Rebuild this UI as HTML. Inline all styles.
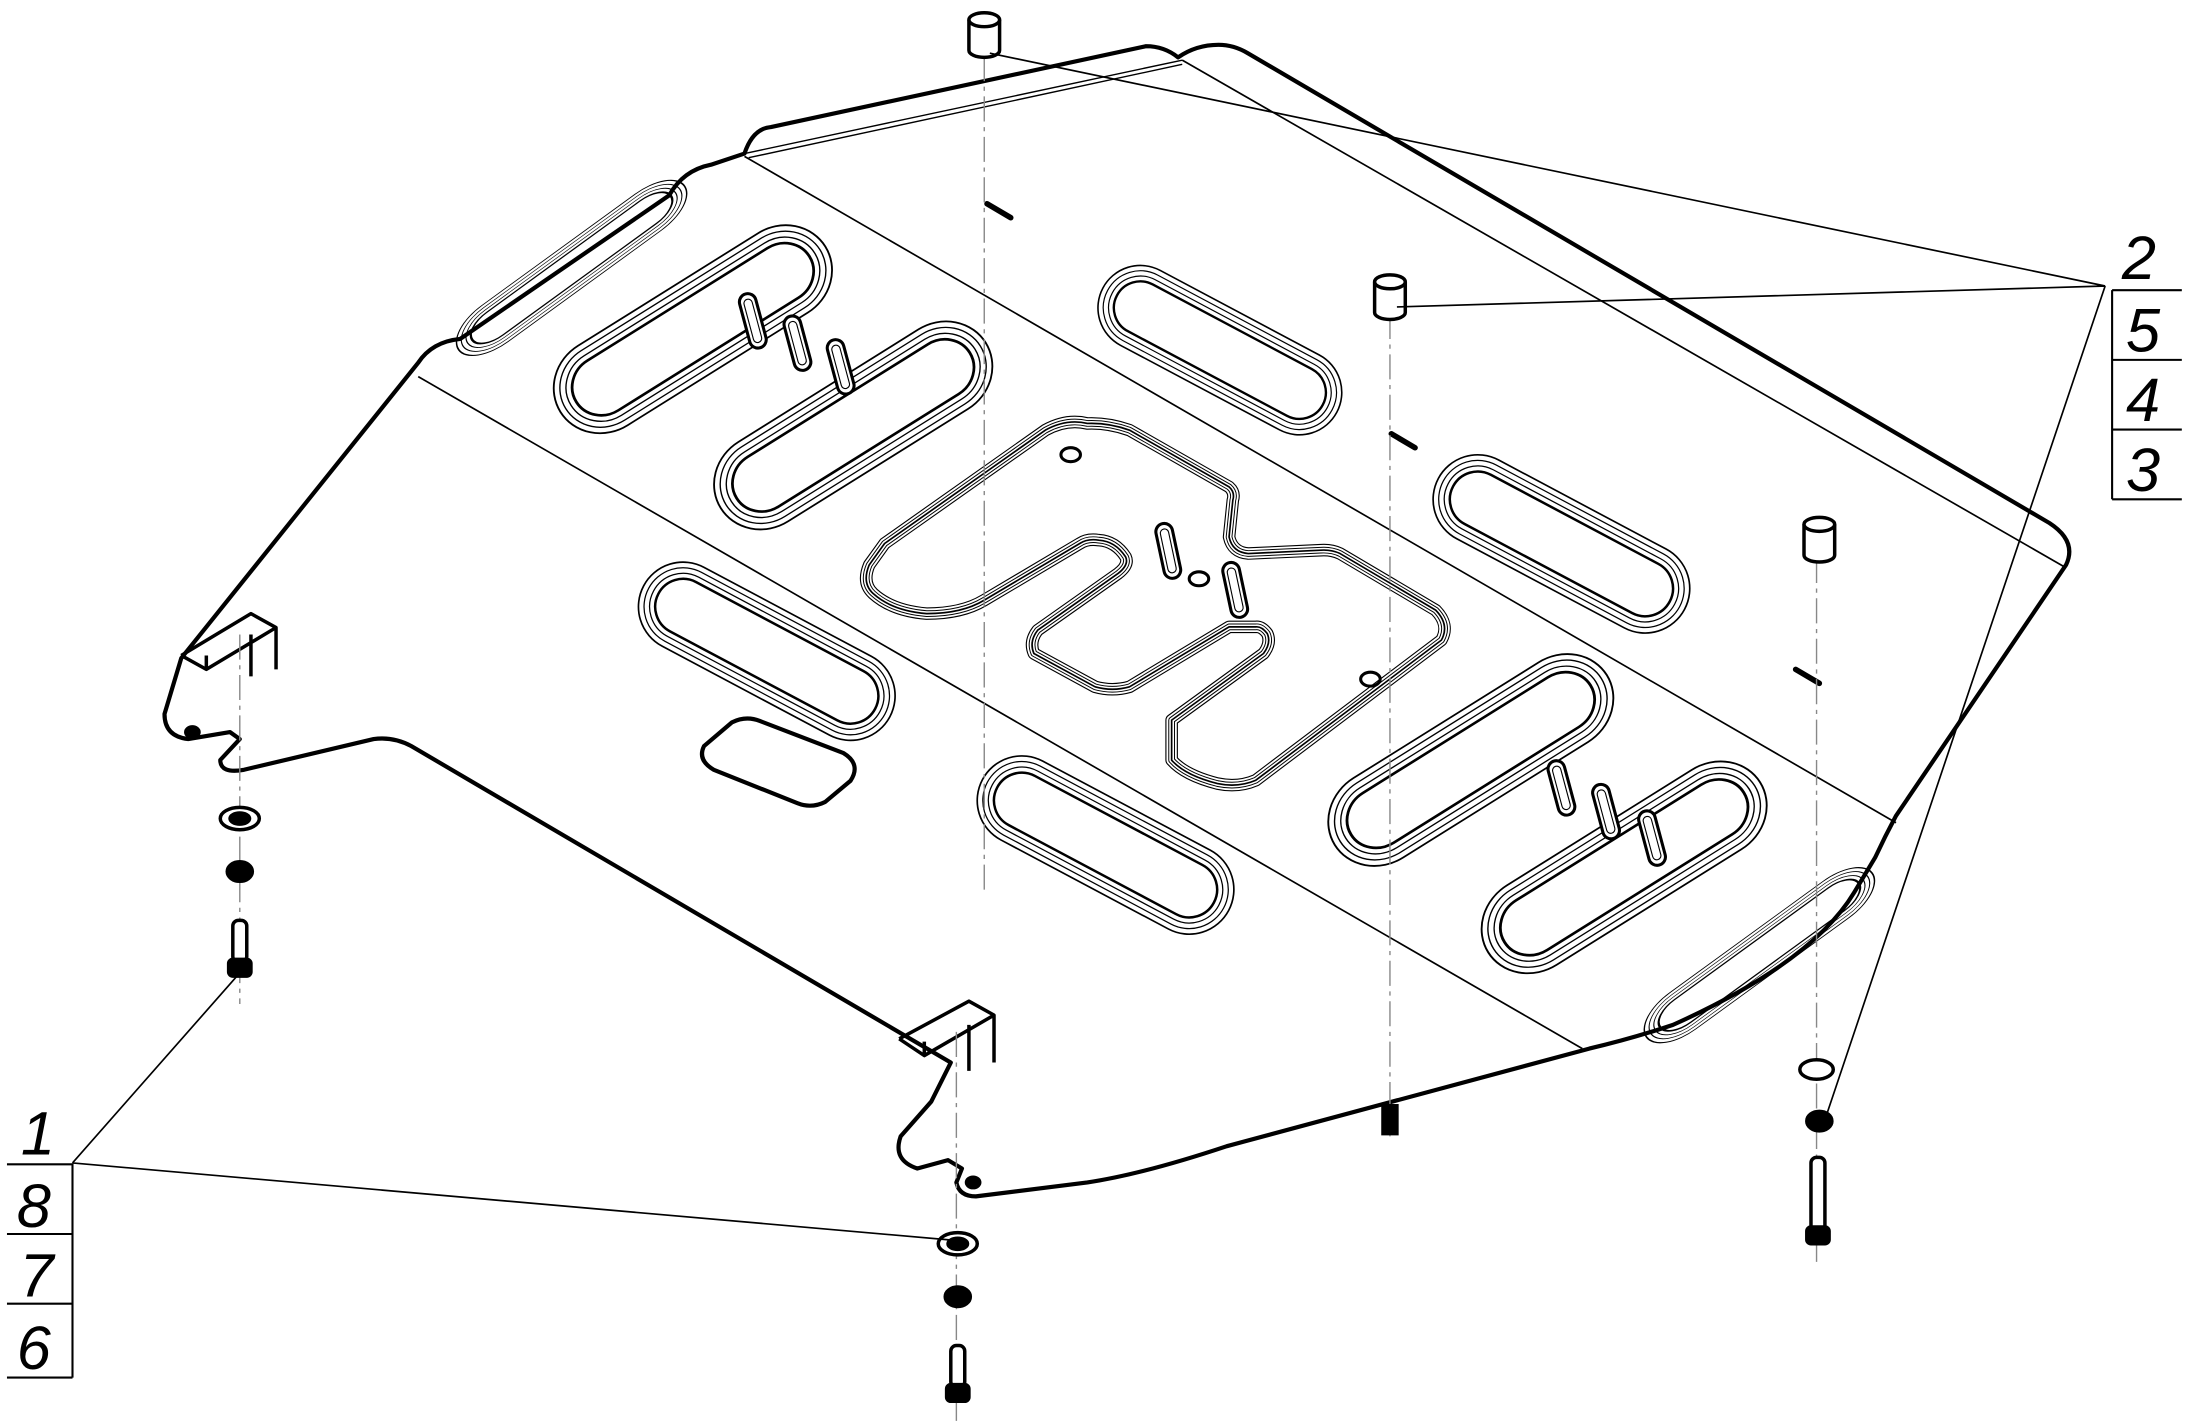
<!DOCTYPE html>
<html><head><meta charset="utf-8"><style>html,body{margin:0;padding:0;background:#fff}svg{display:block}</style></head>
<body>
<svg width="2186" height="1428" viewBox="0 0 1568 1024" xmlns="http://www.w3.org/2000/svg">
<defs>
<g id="slot"><rect x="-100" y="-32" width="200" height="64" rx="32" fill="none" stroke="#000" stroke-width="1.2"/><rect x="-96" y="-28" width="192" height="56" rx="28" fill="none" stroke="#000" stroke-width="0.9"/><rect x="-92" y="-24" width="184" height="48" rx="24" fill="none" stroke="#000" stroke-width="0.9"/><rect x="-88" y="-20" width="176" height="40" rx="20" fill="none" stroke="#000" stroke-width="1.8"/></g>
<g id="pin"><rect x="-6" y="-20" width="12" height="40" rx="6" fill="#fff" stroke="#000" stroke-width="2.2"/><rect x="-3" y="-16" width="6" height="32" rx="3" fill="none" stroke="#000" stroke-width="0.8"/></g>
<g id="bush"><path d="M-11,-10 L-11,12 A11,5 0 0 0 11,12 L11,-10" fill="#fff" stroke="#000" stroke-width="2.5"/><ellipse cx="0" cy="-10" rx="11" ry="5" fill="#fff" stroke="#000" stroke-width="2.5"/></g>
<path id="cshape" d="M634.5,389.7 L749.8,308.4 Q765,300 780,303.6 Q795,303 810.2,308.4 L881.6,349.1 Q886,353 884.3,358.6 L881.6,385 Q884,396 895.3,396.9 L947.4,394.5 Q955,394 961.2,396.9 L1029.8,437.5 Q1040,448 1033.9,459 L900.8,559.5 Q888,565 873.3,561.9 Q850,556 840.4,545.1 L840.4,516.4 L906.3,468.6 Q912,461 909,454.3 Q905,449 900.8,449.5 L881.6,449.5 L810.2,492.5 Q798,496 785.5,492.5 L741.6,468.6 Q738,460 744.3,451.9 L802,411.2 Q810,405 807.4,399.3 Q800,388 788.2,387.3 Q780,386 774.5,389.7 L705.9,430.4 Q690,440 664.7,440 Q640,438 626.3,425.6 Q618,418 623.5,405 Z"/>
</defs>
<g fill="none" stroke="#000" stroke-linejoin="round">
<!-- main plate -->
<path stroke-width="3" d="M534,110 Q540,92 553,91 L822,33 Q835,33 845,41 Q858,32 874,32 Q885,32 895,38 L1470,375 Q1490,388 1482,405 L1360,585 Q1352,600 1345,615 L1330,640 Q1300,690 1200,735 Q1170,745 1140,752 L880,822 Q820,842 780,848 L700,858 Q688,858 686,848 L690,838 L680,832 L658,838 Q640,832 646,815 L668,790 L682,762 L295,535 Q282,528 268,530 L175,552 Q158,555 158,545 L172,530 L165,525 L135,530 Q118,528 118,512 L130,472 L300,260 Q310,245 330,243 L480,140 Q490,122 510,118 Z"/>
<path stroke-width="1" d="M534,110 L848,43 M537,113 L848,46"/>
<path stroke-width="1.2" d="M848,43 L1480,406"/>
<path stroke-width="1.2" d="M534,112 L1360,590"/>
<path stroke-width="1.2" d="M300,270 L1135,752"/>
<!-- edge slots -->
<g transform="translate(410,192) rotate(-36) scale(1,0.5)"><use href="#slot"/></g>
<g transform="translate(1262,685) rotate(-36) scale(1,0.5)"><use href="#slot"/></g>
<!-- slots down-right -->
<g transform="translate(875,251) rotate(28) scale(0.95,0.95)"><use href="#slot"/></g>
<g transform="translate(1120,390) rotate(28)"><use href="#slot"/></g>
<g transform="translate(550,467) rotate(28)"><use href="#slot"/></g>
<g transform="translate(793,606) rotate(28)"><use href="#slot"/></g>
<!-- slots up-right -->
<g transform="translate(497,236) rotate(-32) scale(1.12,1.05)"><use href="#slot"/></g>
<g transform="translate(612,305) rotate(-32) scale(1.12,1.05)"><use href="#slot"/></g>
<g transform="translate(1055,545) rotate(-32) scale(1.15,1.05)"><use href="#slot"/></g>
<g transform="translate(1165,622) rotate(-32) scale(1.15,1.05)"><use href="#slot"/></g>
<!-- central shape -->
<use href="#cshape" stroke="#000" stroke-width="9"/>
<use href="#cshape" stroke="#fff" stroke-width="7.4"/>
<use href="#cshape" stroke="#000" stroke-width="4.8"/>
<use href="#cshape" stroke="#fff" stroke-width="3.4"/>
<use href="#cshape" stroke="#000" stroke-width="1.2"/>
<!-- square hole -->
<path stroke-width="3" d="M505,535 L525,518 Q535,513 545,517 L605,540 Q618,548 610,560 L592,575 Q582,580 572,576 L512,552 Q500,545 505,535 Z"/>
<!-- small holes -->
<ellipse cx="768" cy="326" rx="7" ry="5" stroke-width="2.2"/>
<ellipse cx="860" cy="415" rx="7" ry="5" stroke-width="2.2"/>
<ellipse cx="983" cy="487" rx="7" ry="5" stroke-width="2.2"/>
<ellipse cx="138" cy="525" rx="5" ry="4" stroke-width="2" fill="#000"/>
<ellipse cx="698" cy="848" rx="5" ry="4" stroke-width="2" fill="#000"/>
<g stroke-width="4" stroke-linecap="round"><path d="M708,146 L725,156"/><path d="M998,311 L1015,321"/><path d="M1288,480 L1305,490"/></g>
<!-- tabs -->
<path stroke-width="2.5" d="M130,470 L180,440 L198,450 L198,480 M130,470 L148,480 L198,450 M148,480 L148,470 M180,455 L180,485"/>
<path stroke-width="2.5" d="M645,745 L695,718 L713,728 L713,762 M645,745 L663,757 L713,728 M663,757 L663,747 M695,735 L695,768"/>
</g>
<!-- pins -->
<g transform="translate(540,230) rotate(-15)"><use href="#pin"/></g>
<g transform="translate(572,246) rotate(-15)"><use href="#pin"/></g>
<g transform="translate(603,263) rotate(-15)"><use href="#pin"/></g>
<g transform="translate(838,395) rotate(-12)"><use href="#pin"/></g>
<g transform="translate(886,423) rotate(-12)"><use href="#pin"/></g>
<g transform="translate(1120,565) rotate(-15)"><use href="#pin"/></g>
<g transform="translate(1152,582) rotate(-15)"><use href="#pin"/></g>
<g transform="translate(1185,601) rotate(-15)"><use href="#pin"/></g>
<!-- center lines -->
<g stroke="#888" stroke-width="1" stroke-dasharray="18,4,3,4" fill="none">
<path d="M706,40 V640"/><path d="M997,225 V815"/><path d="M1303,400 V905"/><path d="M172,455 V720"/><path d="M686,740 V1020"/>
</g>
<!-- bushings -->
<g transform="translate(706,24)"><use href="#bush"/></g>
<g transform="translate(997,212)"><use href="#bush"/></g>
<g transform="translate(1305,386)"><use href="#bush"/></g>
<!-- bottom hardware -->
<g stroke="#000" stroke-width="2.5" fill="#fff">
<ellipse cx="172" cy="587" rx="14" ry="8"/><ellipse cx="172" cy="587" rx="7" ry="4" fill="#000"/>
<ellipse cx="172" cy="625" rx="9" ry="7" fill="#000"/>
<rect x="167" y="660" width="10" height="30" rx="4"/><rect x="164" y="688" width="16" height="12" rx="3" fill="#000"/>
<ellipse cx="687" cy="892" rx="14" ry="8"/><ellipse cx="687" cy="892" rx="7" ry="4" fill="#000"/>
<ellipse cx="687" cy="930" rx="9" ry="7" fill="#000"/>
<rect x="682" y="965" width="10" height="30" rx="4"/><rect x="679" y="993" width="16" height="12" rx="3" fill="#000"/>
<rect x="992" y="793" width="10" height="20" fill="#000"/>
<ellipse cx="1303" cy="767" rx="12" ry="7"/>
<ellipse cx="1305" cy="804" rx="9" ry="7" fill="#000"/>
<rect x="1299" y="830" width="10" height="55" rx="4"/><rect x="1296" y="880" width="16" height="12" rx="3" fill="#000"/>
</g>
<!-- leaders -->
<g stroke="#000" stroke-width="1.2" fill="none">
<path d="M1510,205 L710,38 M1510,205 L1002,220 M1510,205 L1308,806"/>
<path d="M52,834 L170,700 M52,834 L690,890"/>
<path stroke-width="1.5" d="M1515,208 H1565 M1515,208 V358 M1515,258 H1565 M1515,308 H1565 M1515,358 H1565"/>
<path stroke-width="1.5" d="M5,835 H52 V988 M5,885 H52 M5,935 H52 M5,988 H52"/>
</g>
<g font-family="Liberation Sans, sans-serif" font-style="italic" font-size="44" fill="#000">
<text x="1522" y="200">2</text><text x="1525" y="252">5</text><text x="1525" y="302">4</text><text x="1525" y="352">3</text>
<text x="15" y="828">1</text><text x="12" y="880">8</text><text x="14" y="930">7</text><text x="12" y="982">6</text>
</g>
</svg>
</body></html>
